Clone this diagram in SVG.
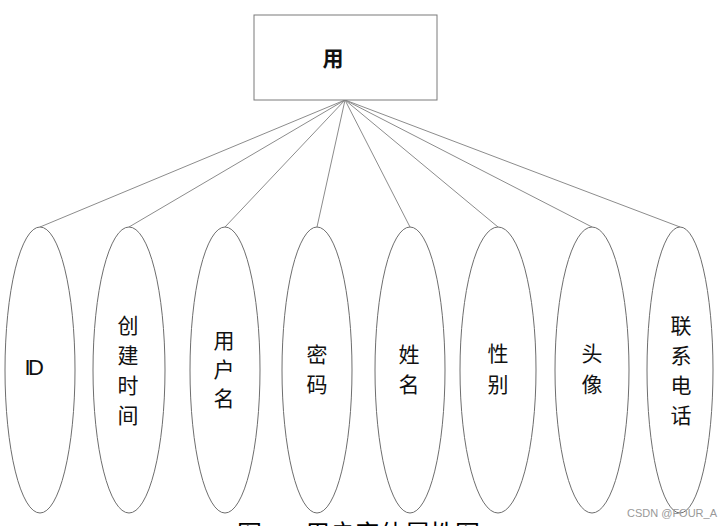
<svg xmlns="http://www.w3.org/2000/svg" width="727" height="526" viewBox="0 0 727 526">
<style>
.conn line{stroke:#8c8c8c;stroke-width:1}
.ent{fill:#fff;stroke:#7a7a7a;stroke-width:1}
.attr{fill:#fff;stroke:#6e6e6e;stroke-width:1}
.t{font-family:"Noto Sans CJK SC","Noto Sans",sans-serif;font-size:21px;fill:#111;text-anchor:middle;dominant-baseline:central}
.cap{font-family:"Noto Sans CJK SC",serif;font-size:25px;fill:#000}
.wm{font-family:"Liberation Sans",sans-serif;font-size:11px;fill:#999}
</style>
<rect width="727" height="526" fill="#fff"/>
<g id="connectors" class="conn">
<line x1="345" y1="100" x2="40" y2="227"/>
<line x1="345" y1="100" x2="129" y2="227"/>
<line x1="345" y1="100" x2="225" y2="227"/>
<line x1="345" y1="100" x2="317" y2="227"/>
<line x1="345" y1="100" x2="410" y2="227"/>
<line x1="345" y1="100" x2="498" y2="227"/>
<line x1="345" y1="100" x2="592" y2="227"/>
<line x1="345" y1="100" x2="680" y2="227"/>
</g>
<g id="user">
<rect class="ent" x="254" y="15" width="183" height="85"/>
<text class="t" x="333" y="57" font-size="22" font-weight="bold">用</text>
</g>
<g id="attr-id">
<ellipse class="attr" cx="40" cy="370" rx="35" ry="143"/>
<text class="t" x="33" y="367" style="font-family:'Liberation Sans',sans-serif;font-size:22px;letter-spacing:-2.5px">ID</text>
</g>
<g id="attr-created">
<ellipse class="attr" cx="129" cy="370" rx="36" ry="143"/>
<text class="t" x="128" y="324">创</text>
<text class="t" x="128" y="354">建</text>
<text class="t" x="128" y="384">时</text>
<text class="t" x="128" y="414">间</text>
</g>
<g id="attr-username">
<ellipse class="attr" cx="225" cy="370" rx="35" ry="143"/>
<text class="t" x="224" y="339">用</text>
<text class="t" x="224" y="368">户</text>
<text class="t" x="224" y="397">名</text>
</g>
<g id="attr-password">
<ellipse class="attr" cx="317" cy="370" rx="35" ry="143"/>
<text class="t" x="317" y="353">密</text>
<text class="t" x="317" y="383">码</text>
</g>
<g id="attr-name">
<ellipse class="attr" cx="410" cy="370" rx="35" ry="143"/>
<text class="t" x="409" y="353">姓</text>
<text class="t" x="409" y="383">名</text>
</g>
<g id="attr-gender">
<ellipse class="attr" cx="498" cy="370" rx="38" ry="143"/>
<text class="t" x="498" y="352">性</text>
<text class="t" x="498" y="383">别</text>
</g>
<g id="attr-avatar">
<ellipse class="attr" cx="592" cy="370" rx="37" ry="143"/>
<text class="t" x="592" y="352">头</text>
<text class="t" x="592" y="383">像</text>
</g>
<g id="attr-phone">
<ellipse class="attr" cx="680" cy="370" rx="33" ry="143"/>
<text class="t" x="681" y="324">联</text>
<text class="t" x="681" y="354">系</text>
<text class="t" x="681" y="384">电</text>
<text class="t" x="681" y="414">话</text>
</g>
<text class="cap" x="237" y="543">图</text>
<text class="cap" x="305" y="543">用户实体属性图</text>
<text class="wm" x="627" y="517">CSDN @FOUR_A</text>
</svg>
